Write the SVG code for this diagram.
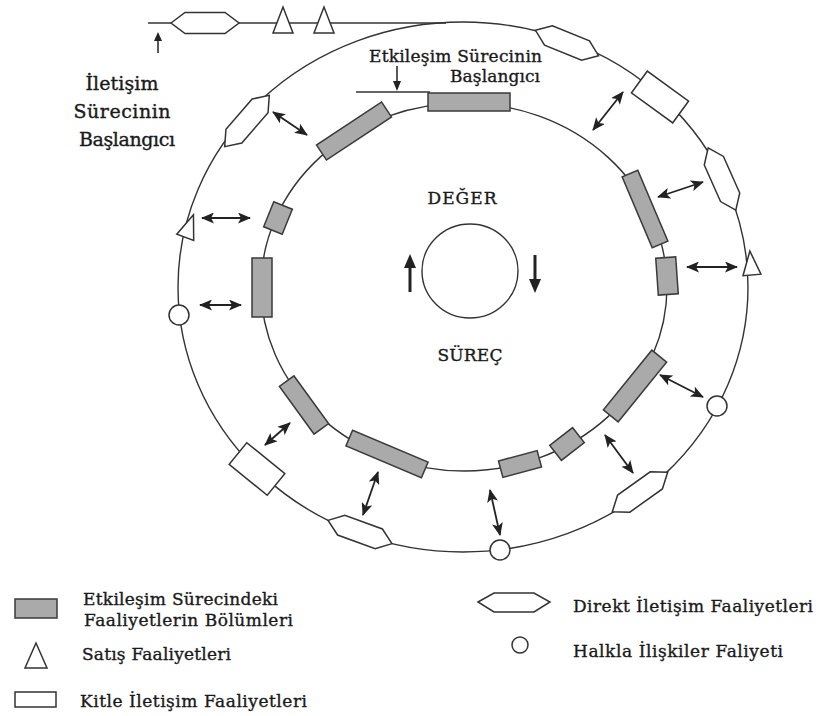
<svg xmlns="http://www.w3.org/2000/svg" xmlns:xlink="http://www.w3.org/1999/xlink" width="819" height="716" viewBox="0 0 819 716">
<defs>
<style>
.ln{fill:none;stroke:#333;stroke-width:1.4}
.w{fill:#fff;stroke:#333;stroke-width:1.5}
.g{fill:#aaa;stroke:#3a3a3a;stroke-width:1.5}
.t{font-family:"DejaVu Serif","Liberation Serif",serif;fill:#1a1a1a;stroke:#1a1a1a;stroke-width:0.35;font-size:17px}
.da{stroke:#222;stroke-width:1.8;fill:none;marker-start:url(#ah);marker-end:url(#ah)}
</style>
<marker id="ah" markerUnits="userSpaceOnUse" markerWidth="14" markerHeight="11" refX="12" refY="5.5" orient="auto-start-reverse">
<path d="M0,0 L13,5.5 L0,11 L3,5.5 Z" fill="#222"/>
</marker>
<path id="hex" d="M-34,0 L-20,-10.5 L20,-10.5 L34,0 L20,10.5 L-20,10.5 Z"/>
<path id="tri" d="M0,-13 L9,11 L-9,11 Z"/>
</defs>
<rect width="819" height="716" fill="#fff"/>

<g id="rings">
<ellipse class="ln" cx="463" cy="287" rx="285" ry="265"/>
<ellipse class="ln" cx="464" cy="287" rx="203" ry="184"/>
<ellipse class="ln" cx="470" cy="271" rx="48" ry="47"/>
<line class="ln" x1="148" y1="23" x2="446" y2="23"/>
<line class="ln" x1="356" y1="92" x2="430" y2="92"/>
</g>

<g id="center-labels">
<text class="t" x="462" y="204" text-anchor="middle" textLength="69">DEĞER</text>
<text class="t" x="470" y="361" text-anchor="middle" textLength="65">SÜREÇ</text>
<path d="M410,292 V266" stroke="#222" stroke-width="3" fill="none"/>
<path d="M404,268 L410,254 L416,268 Z" fill="#222"/>
<path d="M535,255 V281" stroke="#222" stroke-width="3" fill="none"/>
<path d="M529,279 L535,293 L541,279 Z" fill="#222"/>
</g>

<g id="start-labels">
<text class="t" style="font-size:19px" x="122" y="90" text-anchor="middle" textLength="73">İletişim</text>
<text class="t" style="font-size:19px" x="122" y="118" text-anchor="middle" textLength="97">Sürecinin</text>
<text class="t" style="font-size:19px" x="127" y="146" text-anchor="middle" textLength="96">Başlangıcı</text>
<path d="M158,53 V38" stroke="#222" stroke-width="1.5"/>
<path d="M154,41 L158,32 L162,41 Z" fill="#222"/>
<text class="t" x="369" y="62" textLength="173">Etkileşim Sürecinin</text>
<text class="t" x="450" y="82" textLength="90">Başlangıcı</text>
<path d="M397,66 V83" stroke="#222" stroke-width="1.5"/>
<path d="M393,81 L397,91 L401,81 Z" fill="#222"/>
</g>

<g id="top-line-items">
<use xlink:href="#hex" class="w" transform="translate(205,23)"/>
<polygon class="w" points="283,7 273,33 293,33"/>
<polygon class="w" points="324,7 314,33 334,33"/>
</g>

<g id="outer-items">
<g id="o-hex1"><use xlink:href="#hex" class="w" transform="translate(567,43) rotate(22)"/></g>
<g id="o-rect1"><rect class="w" x="-25.5" y="-13.5" width="51" height="27" transform="translate(660,97) rotate(36)"/></g>
<g id="o-hex2"><use xlink:href="#hex" class="w" transform="translate(722,179) rotate(66)"/></g>
<g id="o-tri1"><use xlink:href="#tri" class="w" transform="translate(751,264) rotate(-5)"/></g>
<g id="o-circ1"><circle class="w" cx="717" cy="406" r="10"/></g>
<g id="o-hex3"><use xlink:href="#hex" class="w" transform="translate(640,492) rotate(-35.5)"/></g>
<g id="o-circ2"><circle class="w" cx="500" cy="550" r="10"/></g>
<g id="o-hex4"><use xlink:href="#hex" class="w" transform="translate(360,532) rotate(20)"/></g>
<g id="o-rect2"><rect class="w" x="-24.5" y="-14" width="49" height="28" transform="translate(257,469) rotate(39)"/></g>
<g id="o-circ3"><circle class="w" cx="179" cy="315" r="10"/></g>
<g id="o-tri2"><use xlink:href="#tri" class="w" transform="translate(189,227) rotate(20)"/></g>
<g id="o-hex5"><use xlink:href="#hex" class="w" transform="translate(247,121) rotate(-49)"/></g>
</g>

<g id="inner-items">
<g id="i-a"><rect class="g" x="428" y="93" width="82" height="18"/></g>
<g id="i-b"><rect class="g" x="-39" y="-9" width="78" height="18" transform="translate(354,131) rotate(-33.5)"/></g>
<g id="i-c"><rect class="g" x="-10" y="-13.5" width="20" height="27" transform="translate(278,218) rotate(22)"/></g>
<g id="i-d"><rect class="g" x="252" y="258" width="20" height="59"/></g>
<g id="i-e"><rect class="g" x="-8.5" y="-38.5" width="17" height="77" transform="translate(645,209) rotate(-23)"/></g>
<g id="i-f"><rect class="g" x="-10" y="-18.5" width="20" height="37" transform="translate(667,276) rotate(-4)"/></g>
<g id="i-g"><rect class="g" x="-38.5" y="-9.5" width="77" height="19" transform="translate(635,386) rotate(-51)"/></g>
<g id="i-h"><rect class="g" x="-14.5" y="-9.5" width="29" height="19" transform="translate(567,444) rotate(-38)"/></g>
<g id="i-i"><rect class="g" x="-20" y="-8.5" width="40" height="17" transform="translate(520,464) rotate(-15)"/></g>
<g id="i-j"><rect class="g" x="-41" y="-8.5" width="82" height="17" transform="translate(387,454) rotate(23)"/></g>
<g id="i-k"><rect class="g" x="-29.5" y="-9" width="59" height="18" transform="translate(304,405) rotate(54)"/></g>
</g>

<g id="connectors">
<line class="da" x1="273" y1="112" x2="307" y2="135"/>
<line class="da" x1="202" y1="218" x2="250" y2="218"/>
<line class="da" x1="200" y1="305" x2="241" y2="305"/>
<line class="da" x1="593" y1="130" x2="623" y2="92"/>
<line class="da" x1="658" y1="197" x2="703" y2="182"/>
<line class="da" x1="687" y1="267" x2="737" y2="267"/>
<line class="da" x1="660" y1="375" x2="703" y2="397"/>
<line class="da" x1="605" y1="435" x2="633" y2="473"/>
<line class="da" x1="490" y1="490" x2="500" y2="535"/>
<line class="da" x1="265" y1="445" x2="290" y2="423"/>
<line class="da" x1="378" y1="472" x2="363" y2="515"/>
</g>

<g id="legend">
<rect class="g" x="15" y="599" width="42" height="19"/>
<text class="t" x="83" y="605" textLength="195">Etkileşim Sürecindeki</text>
<text class="t" x="84" y="626" textLength="209">Faaliyetlerin Bölümleri</text>
<polygon class="w" points="36,643 25,668 47,668"/>
<text class="t" x="82" y="660" textLength="149">Satış Faaliyetleri</text>
<rect class="w" x="15" y="692" width="41" height="15"/>
<text class="t" x="80" y="707" textLength="227">Kitle İletişim Faaliyetleri</text>
<path class="w" d="M478,602 L494,593 L534,593 L550,602 L534,612 L494,612 Z"/>
<text class="t" x="573" y="612" textLength="240">Direkt İletişim Faaliyetleri</text>
<circle class="w" cx="520" cy="645" r="8"/>
<text class="t" x="573" y="657" textLength="210">Halkla İlişkiler Faliyeti</text>
</g>
</svg>
